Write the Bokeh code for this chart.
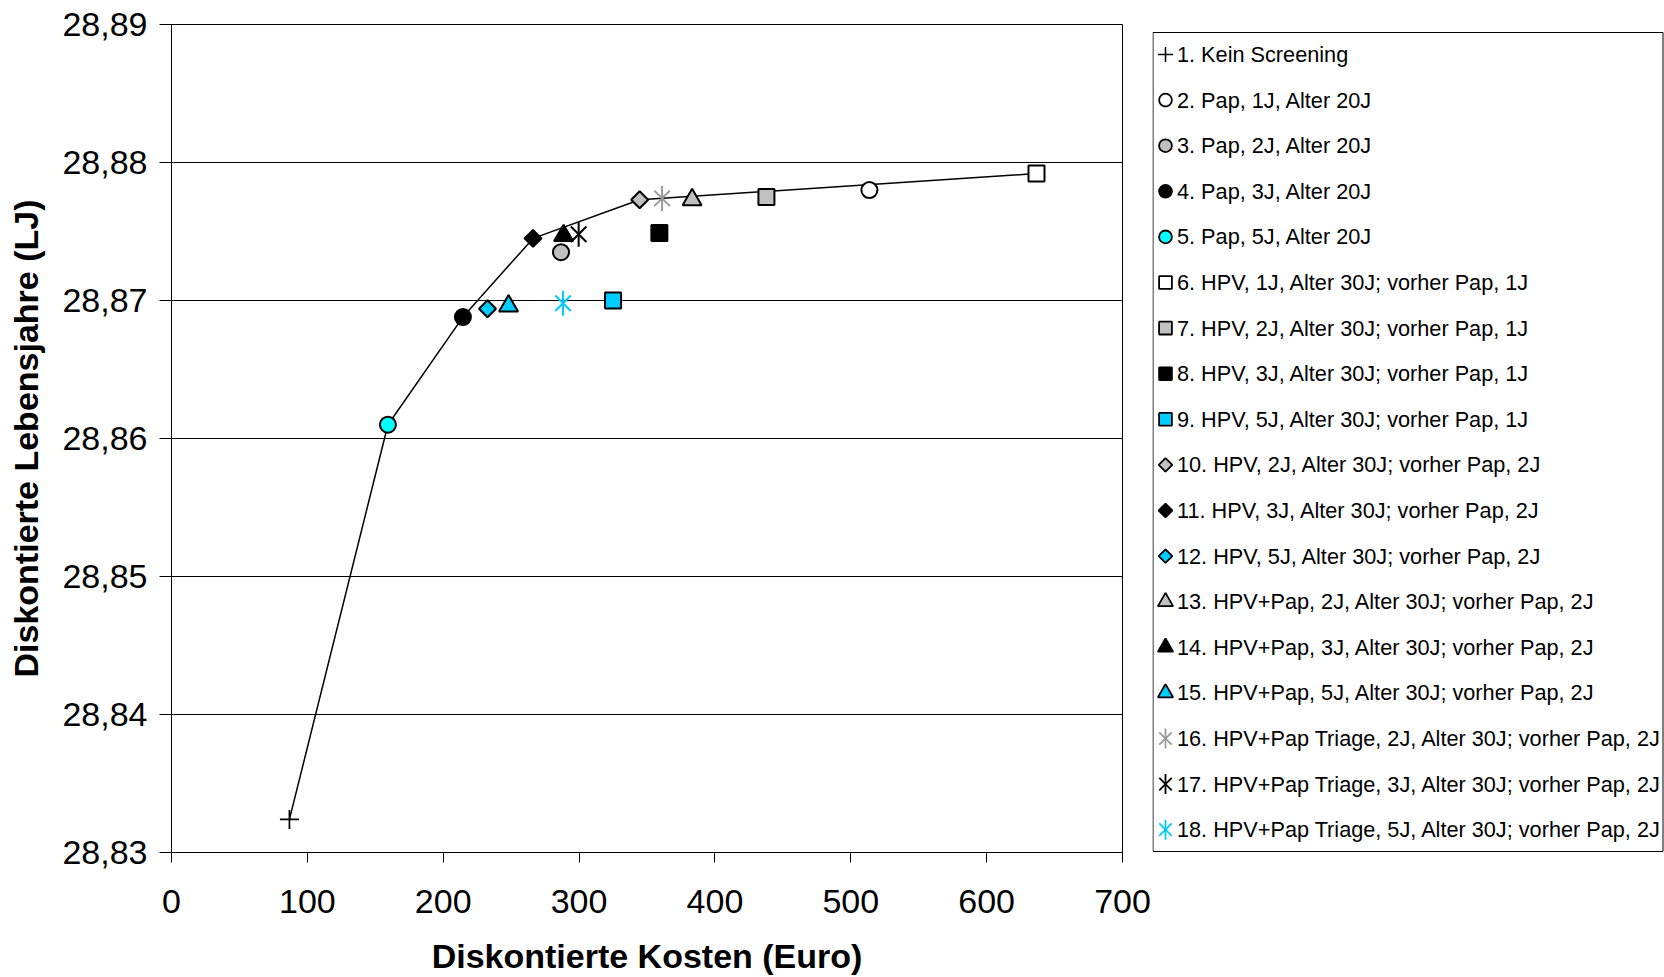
import math
from bokeh.plotting import figure
from bokeh.models import Range1d, FixedTicker, CustomJSTickFormatter
from bokeh.layouts import row
from bokeh.embed import file_html
from bokeh.resources import INLINE
from bokeh.core.properties import value

# Strategies: discounted costs (Euro) and discounted life years (LJ)
strategien = [
    "1. Kein Screening",
    "2. Pap, 1J, Alter 20J",
    "3. Pap, 2J, Alter 20J",
    "4. Pap, 3J, Alter 20J",
    "5. Pap, 5J, Alter 20J",
    "6. HPV, 1J, Alter 30J; vorher Pap, 1J",
    "7. HPV, 2J, Alter 30J; vorher Pap, 1J",
    "8. HPV, 3J, Alter 30J; vorher Pap, 1J",
    "9. HPV, 5J, Alter 30J; vorher Pap, 1J",
    "10. HPV, 2J, Alter 30J; vorher Pap, 2J",
    "11. HPV, 3J, Alter 30J; vorher Pap, 2J",
    "12. HPV, 5J, Alter 30J; vorher Pap, 2J",
    "13. HPV+Pap, 2J, Alter 30J; vorher Pap, 2J",
    "14. HPV+Pap, 3J, Alter 30J; vorher Pap, 2J",
    "15. HPV+Pap, 5J, Alter 30J; vorher Pap, 2J",
    "16. HPV+Pap Triage, 2J, Alter 30J; vorher Pap, 2J",
    "17. HPV+Pap Triage, 3J, Alter 30J; vorher Pap, 2J",
    "18. HPV+Pap Triage, 5J, Alter 30J; vorher Pap, 2J",
]
kosten = [86.8, 513.7, 286.7, 214.5, 159.3, 636.7, 437.9, 359.1, 325.0,
          344.6, 266.1, 232.6, 383.2, 288.6, 248.1, 361.1, 299.7, 288.2]
lebensjahre = [28.8324, 28.8780, 28.8735, 28.8688, 28.8610, 28.8792, 28.8775,
               28.8749, 28.8700, 28.8773, 28.8745, 28.8694, 28.8773, 28.8747,
               28.8696, 28.8774, 28.8748, 28.8698]
# strategy numbers on the efficiency frontier, in order of cost
effizienzkurve = [1, 5, 4, 11, 10, 6]

x_ticks = [0, 100, 200, 300, 400, 500, 600, 700]
y_ticks = [28.83, 28.84, 28.85, 28.86, 28.87, 28.88, 28.89]

SILVER = "#C0C0C0"
CYAN = "#00FFFF"
SKY = "#00CCFF"
GREY = "#9A9A9A"

# marker kind and colour per strategy
marker_art = ["plus", "circle", "circle", "circle", "circle",
              "square", "square", "square", "square",
              "diamond", "diamond", "diamond",
              "triangle", "triangle", "triangle",
              "asterisk", "asterisk", "asterisk"]
farben = ["black", "white", SILVER, "black", CYAN,
          "white", SILVER, "black", SKY,
          SILVER, "black", SKY,
          SILVER, "black", SKY,
          GREY, "black", SKY]

FONT = "Liberation Sans"

# shared borders so both panels line up in the row
BORDER_TOP = 24
BORDER_BOTTOM = 125
HEIGHT = 977


def draw_marker(fig, xs, ys, kind, color, scale, lw):
    if kind == "plus":
        fig.scatter(xs, ys, marker="cross", size=19 * scale, line_color=color, line_width=lw * 0.85)
    elif kind == "circle":
        fig.scatter(xs, ys, marker="circle", size=16 * scale, fill_color=color,
                    line_color="black", line_width=lw)
    elif kind == "square":
        fig.scatter(xs, ys, marker="square", size=16 * scale, fill_color=color,
                    line_color="black", line_width=lw)
    elif kind == "diamond":
        fig.scatter(xs, ys, marker="square", size=12 * scale, angle=math.pi / 4,
                    fill_color=color, line_color="black", line_width=lw)
    elif kind == "triangle":
        fig.scatter(xs, ys, marker="triangle", size=19 * scale, fill_color=color,
                    line_color="black", line_width=lw)
    elif kind == "asterisk":
        fig.scatter(xs, ys, marker="x", size=22 * scale, line_color=color, line_width=lw)
        fig.scatter(xs, ys, marker="dash", size=25 * scale, angle=math.pi / 2,
                    line_color=color, line_width=lw)


p = figure(width=1152, height=HEIGHT, output_backend="svg", toolbar_location=None,
           x_range=Range1d(0, 700), y_range=Range1d(28.83, 28.89),
           min_border_left=171, min_border_right=30, min_border_top=BORDER_TOP,
           min_border_bottom=BORDER_BOTTOM)
p.background_fill_color = "white"
p.border_fill_color = "white"
p.outline_line_color = "black"
p.outline_line_width = 1

p.xgrid.visible = False
p.ygrid.grid_line_color = "black"
p.ygrid.grid_line_width = 1
p.ygrid.grid_line_alpha = 1.0

p.xaxis.ticker = FixedTicker(ticks=x_ticks)
p.yaxis.ticker = FixedTicker(ticks=y_ticks)
p.yaxis.formatter = CustomJSTickFormatter(code="return tick.toFixed(2).replace('.', ',');")
p.xaxis.formatter = CustomJSTickFormatter(code="return tick.toFixed(0);")

for ax in (p.xaxis[0], p.yaxis[0]):
    ax.axis_line_color = "black"
    ax.axis_line_width = 1
    ax.major_tick_line_color = "black"
    ax.major_tick_in = 0
    ax.minor_tick_line_color = None
    ax.major_label_text_font = FONT
    ax.major_label_text_font_size = "34px"
    ax.major_label_text_color = "black"
    ax.axis_label_text_font = FONT
    ax.axis_label_text_font_size = "34px"
    ax.axis_label_text_font_style = "bold"
    ax.axis_label_text_color = "black"

p.xaxis.major_tick_out = 10
p.yaxis.major_tick_out = 12
p.xaxis.major_label_standoff = 27
p.yaxis.major_label_standoff = 12
p.xaxis.axis_label = "Diskontierte Kosten (Euro)"
p.yaxis.axis_label = "Diskontierte Lebensjahre (LJ)"
p.xaxis.axis_label_standoff = 21
p.yaxis.axis_label_standoff = 14

# efficiency frontier
p.line([kosten[n - 1] for n in effizienzkurve],
       [lebensjahre[n - 1] for n in effizienzkurve],
       line_color="black", line_width=1.5)

for i in range(len(strategien)):
    draw_marker(p, [kosten[i]], [lebensjahre[i]], marker_art[i], farben[i], 1.0, 2)

# legend panel (pixel units, y measured downward from the panel's top)
LEG_W = 512
LEG_H = HEIGHT - BORDER_TOP - BORDER_BOTTOM
leg = figure(width=LEG_W, height=HEIGHT, output_backend="svg", toolbar_location=None,
             x_range=Range1d(0, LEG_W), y_range=Range1d(LEG_H, 0),
             min_border_left=0, min_border_right=0, min_border_top=BORDER_TOP,
             min_border_bottom=BORDER_BOTTOM, x_axis_location=None, y_axis_location=None)
leg.xgrid.visible = False
leg.ygrid.visible = False
leg.outline_line_color = None
leg.background_fill_color = "white"
leg.border_fill_color = "white"

box_top, box_bottom = 8, 827
leg.quad(left=[0.5], right=[LEG_W - 1.5], top=[box_top], bottom=[box_bottom],
         fill_color=None, line_color="black", line_width=1)

row_step = 45.6
first_row = 30
for i, name in enumerate(strategien):
    yy = first_row + row_step * i
    draw_marker(leg, [13], [yy], marker_art[i], farben[i], 0.8, 1.8)
    leg.text([24.5], [yy], text=[name], text_font=value(FONT), text_font_size="21.7px",
             text_baseline="middle", text_align="left", text_color="black")

layout = row(p, leg)
open("out.html", "w").write(file_html(layout, INLINE))
